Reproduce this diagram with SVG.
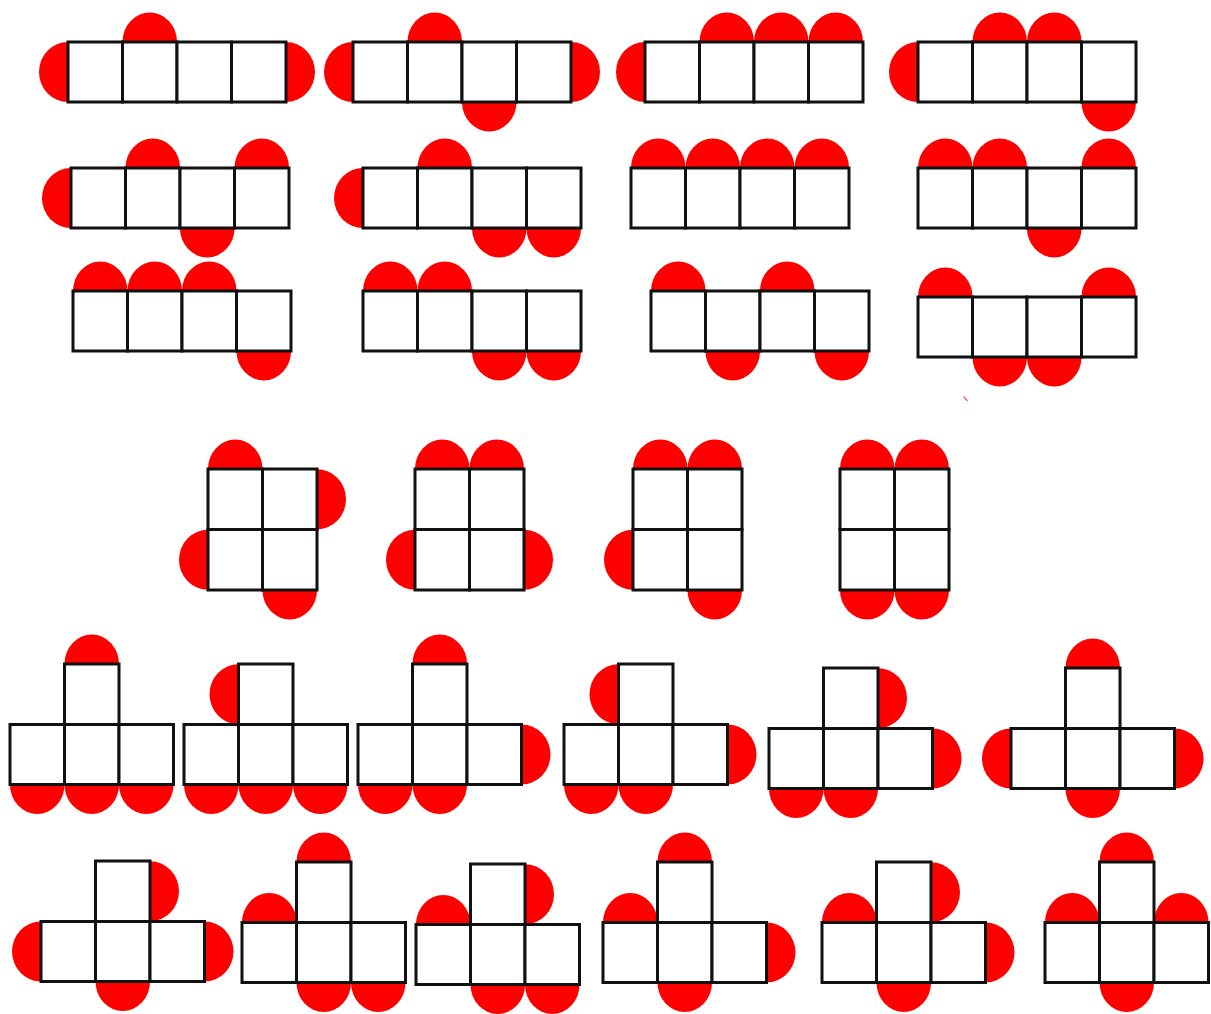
<svg xmlns="http://www.w3.org/2000/svg" xmlns:xlink="http://www.w3.org/1999/xlink" width="1211" height="1014" viewBox="0 0 1211 1014">
<style>
.cell{fill:#fff;stroke:#111;stroke-width:3}
.bh{fill:#f00}
.bv{fill:#f00}
</style>
<defs>
<ellipse id="h" rx="27.3" ry="29.5"/>
<ellipse id="v" rx="29" ry="30"/>
<g id="bar">
<rect class="cell" x="0" y="0" width="54.5" height="60"/>
<rect class="cell" x="54.5" y="0" width="54.5" height="60"/>
<rect class="cell" x="109" y="0" width="54.5" height="60"/>
<rect class="cell" x="163.5" y="0" width="54.5" height="60"/>
</g>
<g id="sq">
<rect class="cell" x="0" y="0" width="54.5" height="60.5"/>
<rect class="cell" x="54.5" y="0" width="54.5" height="60.5"/>
<rect class="cell" x="0" y="60.5" width="54.5" height="60.5"/>
<rect class="cell" x="54.5" y="60.5" width="54.5" height="60.5"/>
</g>
<g id="tee">
<rect class="cell" x="54.5" y="0" width="54.5" height="60.5"/>
<rect class="cell" x="0" y="60.5" width="54.5" height="60"/>
<rect class="cell" x="54.5" y="60.5" width="54.5" height="60"/>
<rect class="cell" x="109" y="60.5" width="54.5" height="60"/>
</g>
</defs>
<rect width="1211" height="1014" fill="#fff"/>

<!-- Row 1 -->
<g id="fig-a" transform="translate(68,42)">
<use href="#v" class="bv" x="0" y="30"/><use href="#v" class="bv" x="218" y="30"/><use href="#h" class="bh" x="81.75" y="0"/>
<use href="#bar"/>
</g>
<g id="fig-b" transform="translate(353,42)">
<use href="#v" class="bv" x="0" y="30"/><use href="#v" class="bv" x="218" y="30"/><use href="#h" class="bh" x="81.75" y="0"/><use href="#h" class="bh" x="136.25" y="60"/>
<use href="#bar"/>
</g>
<g id="fig-c" transform="translate(645,42)">
<use href="#v" class="bv" x="0" y="30"/><use href="#h" class="bh" x="81.75" y="0"/><use href="#h" class="bh" x="136.25" y="0"/><use href="#h" class="bh" x="190.75" y="0"/>
<use href="#bar"/>
</g>
<g id="fig-d" transform="translate(918,42)">
<use href="#v" class="bv" x="0" y="30"/><use href="#h" class="bh" x="81.75" y="0"/><use href="#h" class="bh" x="136.25" y="0"/><use href="#h" class="bh" x="190.75" y="60"/>
<use href="#bar"/>
</g>

<!-- Row 2 -->
<g id="fig-e" transform="translate(71,168)">
<use href="#v" class="bv" x="0" y="30"/><use href="#h" class="bh" x="81.75" y="0"/><use href="#h" class="bh" x="190.75" y="0"/><use href="#h" class="bh" x="136.25" y="60"/>
<use href="#bar"/>
</g>
<g id="fig-f" transform="translate(363,168)">
<use href="#v" class="bv" x="0" y="30"/><use href="#h" class="bh" x="81.75" y="0"/><use href="#h" class="bh" x="136.25" y="60"/><use href="#h" class="bh" x="190.75" y="60"/>
<use href="#bar"/>
</g>
<g id="fig-g" transform="translate(631,168)">
<use href="#h" class="bh" x="27.25" y="0"/><use href="#h" class="bh" x="81.75" y="0"/><use href="#h" class="bh" x="136.25" y="0"/><use href="#h" class="bh" x="190.75" y="0"/>
<use href="#bar"/>
</g>
<g id="fig-h" transform="translate(918,168)">
<use href="#h" class="bh" x="27.25" y="0"/><use href="#h" class="bh" x="81.75" y="0"/><use href="#h" class="bh" x="190.75" y="0"/><use href="#h" class="bh" x="136.25" y="60"/>
<use href="#bar"/>
</g>

<!-- Row 3 -->
<g id="fig-i" transform="translate(73,291)">
<use href="#h" class="bh" x="27.25" y="0"/><use href="#h" class="bh" x="81.75" y="0"/><use href="#h" class="bh" x="136.25" y="0"/><use href="#h" class="bh" x="190.75" y="60"/>
<use href="#bar"/>
</g>
<g id="fig-j" transform="translate(363,291)">
<use href="#h" class="bh" x="27.25" y="0"/><use href="#h" class="bh" x="81.75" y="0"/><use href="#h" class="bh" x="136.25" y="60"/><use href="#h" class="bh" x="190.75" y="60"/>
<use href="#bar"/>
</g>
<g id="fig-k" transform="translate(651,291)">
<use href="#h" class="bh" x="27.25" y="0"/><use href="#h" class="bh" x="136.25" y="0"/><use href="#h" class="bh" x="81.75" y="60"/><use href="#h" class="bh" x="190.75" y="60"/>
<use href="#bar"/>
</g>
<g id="fig-l" transform="translate(918,297)">
<use href="#h" class="bh" x="27.25" y="0"/><use href="#h" class="bh" x="190.75" y="0"/><use href="#h" class="bh" x="81.75" y="60"/><use href="#h" class="bh" x="136.25" y="60"/>
<use href="#bar"/>
</g>
<path id="speck" d="M963.5,396.5 L967.5,401" stroke="#f66" stroke-width="1.5" fill="none"/>

<!-- Row 4: 2x2 squares -->
<g id="fig-m" transform="translate(208,469)">
<use href="#h" class="bh" x="27.25" y="0"/><use href="#v" class="bv" x="109" y="30.25"/><use href="#v" class="bv" x="0" y="90.75"/><use href="#h" class="bh" x="81.75" y="121"/>
<use href="#sq"/>
</g>
<g id="fig-n" transform="translate(415,469)">
<use href="#h" class="bh" x="27.25" y="0"/><use href="#h" class="bh" x="81.75" y="0"/><use href="#v" class="bv" x="0" y="90.75"/><use href="#v" class="bv" x="109" y="90.75"/>
<use href="#sq"/>
</g>
<g id="fig-o" transform="translate(633,469)">
<use href="#h" class="bh" x="27.25" y="0"/><use href="#h" class="bh" x="81.75" y="0"/><use href="#v" class="bv" x="0" y="90.75"/><use href="#h" class="bh" x="81.75" y="121"/>
<use href="#sq"/>
</g>
<g id="fig-p" transform="translate(840,469)">
<use href="#h" class="bh" x="27.25" y="0"/><use href="#h" class="bh" x="81.75" y="0"/><use href="#h" class="bh" x="27.25" y="121"/><use href="#h" class="bh" x="81.75" y="121"/>
<use href="#sq"/>
</g>

<!-- Row 5: T shapes -->
<g id="fig-q" transform="translate(10,664)">
<use href="#h" class="bh" x="81.75" y="0"/><use href="#h" class="bh" x="27.25" y="120.5"/><use href="#h" class="bh" x="81.75" y="120.5"/><use href="#h" class="bh" x="136.25" y="120.5"/>
<use href="#tee"/>
</g>
<g id="fig-r" transform="translate(184,664)">
<use href="#v" class="bv" x="54.5" y="30.25"/><use href="#h" class="bh" x="27.25" y="120.5"/><use href="#h" class="bh" x="81.75" y="120.5"/><use href="#h" class="bh" x="136.25" y="120.5"/>
<use href="#tee"/>
</g>
<g id="fig-s" transform="translate(358,664)">
<use href="#h" class="bh" x="81.75" y="0"/><use href="#v" class="bv" x="163.5" y="90.5"/><use href="#h" class="bh" x="27.25" y="120.5"/><use href="#h" class="bh" x="81.75" y="120.5"/>
<use href="#tee"/>
</g>
<g id="fig-t" transform="translate(564,664)">
<use href="#v" class="bv" x="54.5" y="30.25"/><use href="#v" class="bv" x="163.5" y="90.5"/><use href="#h" class="bh" x="27.25" y="120.5"/><use href="#h" class="bh" x="81.75" y="120.5"/>
<use href="#tee"/>
</g>
<g id="fig-u" transform="translate(769,668)">
<use href="#v" class="bv" x="109" y="30.25"/><use href="#v" class="bv" x="163.5" y="90.5"/><use href="#h" class="bh" x="27.25" y="120.5"/><use href="#h" class="bh" x="81.75" y="120.5"/>
<use href="#tee"/>
</g>
<g id="fig-v" transform="translate(1011,668)">
<use href="#h" class="bh" x="81.75" y="0"/><use href="#v" class="bv" x="0" y="90.5"/><use href="#v" class="bv" x="163.5" y="90.5"/><use href="#h" class="bh" x="81.75" y="120.5"/>
<use href="#tee"/>
</g>

<!-- Row 6: T shapes -->
<g id="fig-w" transform="translate(41,861)">
<use href="#v" class="bv" x="109" y="30.25"/><use href="#v" class="bv" x="0" y="90.5"/><use href="#v" class="bv" x="163.5" y="90.5"/><use href="#h" class="bh" x="81.75" y="120.5"/>
<use href="#tee"/>
</g>
<g id="fig-x" transform="translate(242,862)">
<use href="#h" class="bh" x="81.75" y="0"/><use href="#h" class="bh" x="27.25" y="60.5"/><use href="#h" class="bh" x="81.75" y="120.5"/><use href="#h" class="bh" x="136.25" y="120.5"/>
<use href="#tee"/>
</g>
<g id="fig-y" transform="translate(416,864)">
<use href="#h" class="bh" x="27.25" y="60.5"/><use href="#v" class="bv" x="109" y="30.25"/><use href="#h" class="bh" x="81.75" y="120.5"/><use href="#h" class="bh" x="136.25" y="120.5"/>
<use href="#tee"/>
</g>
<g id="fig-z" transform="translate(603,862)">
<use href="#h" class="bh" x="81.75" y="0"/><use href="#h" class="bh" x="27.25" y="60.5"/><use href="#v" class="bv" x="163.5" y="90.5"/><use href="#h" class="bh" x="81.75" y="120.5"/>
<use href="#tee"/>
</g>
<g id="fig-aa" transform="translate(822,862)">
<use href="#h" class="bh" x="27.25" y="60.5"/><use href="#v" class="bv" x="109" y="30.25"/><use href="#v" class="bv" x="163.5" y="90.5"/><use href="#h" class="bh" x="81.75" y="120.5"/>
<use href="#tee"/>
</g>
<g id="fig-ab" transform="translate(1045,862)">
<use href="#h" class="bh" x="81.75" y="0"/><use href="#h" class="bh" x="27.25" y="60.5"/><use href="#h" class="bh" x="136.25" y="60.5"/><use href="#h" class="bh" x="81.75" y="120.5"/>
<use href="#tee"/>
</g>
</svg>
